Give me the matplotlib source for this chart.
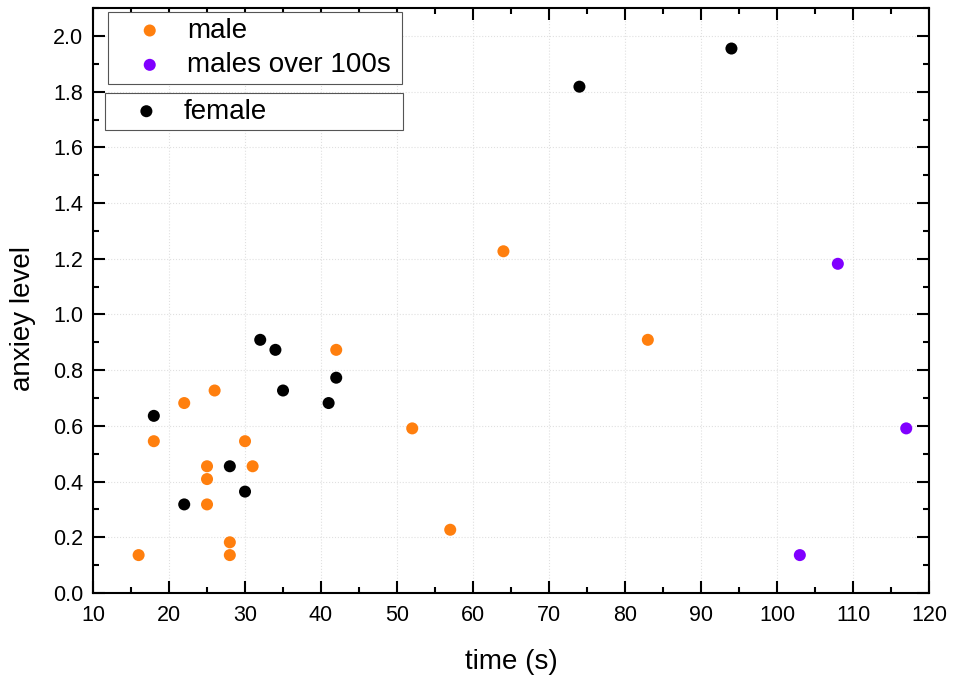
import numpy as np
import matplotlib.pyplot as plt
from matplotlib.ticker import MultipleLocator

plt.rcParams['font.family'] = ['Liberation Sans', 'DejaVu Sans']

# male
male_t = [16, 18, 22, 26, 25, 25, 25, 30, 31, 28, 28, 42, 52, 57, 64, 83]
male_a = [0.136, 0.545, 0.682, 0.727, 0.455, 0.409, 0.318, 0.545, 0.455, 0.182, 0.136, 0.873, 0.591, 0.227, 1.227, 0.909]
# males over 100s
over_t = [103, 108, 117]
over_a = [0.136, 1.182, 0.591]
# female
fem_t = [18, 22, 28, 30, 32, 34, 35, 41, 42, 74, 94]
fem_a = [0.636, 0.318, 0.455, 0.364, 0.909, 0.873, 0.727, 0.682, 0.773, 1.818, 1.955]

fig = plt.figure(figsize=(9.56, 6.79), dpi=100)
ax = fig.add_axes([0.0973, 0.1267, 0.8745, 0.8613])

s = 75
h1 = ax.scatter(male_t, male_a, s=s, color='#ff7f0e', edgecolors='none', label='male', zorder=3)
h2 = ax.scatter(over_t, over_a, s=s, color='#8000ff', edgecolors='none', label='males over 100s', zorder=3)
h3 = ax.scatter(fem_t, fem_a, s=s, color='black', edgecolors='none', label='female', zorder=3)

ax.set_xlim(10, 120)
ax.set_ylim(0, 2.1)
ax.xaxis.set_major_locator(MultipleLocator(10))
ax.xaxis.set_minor_locator(MultipleLocator(5))
ax.yaxis.set_major_locator(MultipleLocator(0.2))
ax.yaxis.set_minor_locator(MultipleLocator(0.1))
ax.yaxis.set_major_formatter(plt.FormatStrFormatter('%.1f'))
ax.tick_params(which='both', direction='in', top=True, right=True, labelsize=15.5, width=1.5, pad=7)
ax.tick_params(axis='x', pad=9)
ax.tick_params(which='major', length=8.5)
ax.tick_params(which='minor', length=4.5)
for sp in ax.spines.values():
    sp.set_linewidth(1.5)
ax.grid(True, color='#e0e0e0', linestyle=':', linewidth=0.8)
ax.set_axisbelow(True)

ax.set_xlabel('time (s)', fontsize=20, labelpad=16)
ax.set_ylabel('anxiey level', fontsize=20)
ax.yaxis.set_label_coords(-0.068, 0.47)

leg_kw = dict(loc='upper left', mode='expand', fontsize=20, frameon=True, fancybox=False,
              edgecolor='#555555', framealpha=1, handlelength=2.6, handletextpad=0.05,
              borderaxespad=0)
leg1 = ax.legend(handles=[h1, h2], bbox_to_anchor=(0.018, 0.983, 0.352, 0.01),
                 borderpad=0.2, labelspacing=0.3, **leg_kw)
leg1.get_frame().set_linewidth(0.8)
ax.add_artist(leg1)
leg2 = ax.legend(handles=[h3], bbox_to_anchor=(0.014, 0.845, 0.357, 0.01),
                 borderpad=0.2, **leg_kw)
leg2.get_frame().set_linewidth(0.8)

fig.savefig('out.png', dpi=100)
